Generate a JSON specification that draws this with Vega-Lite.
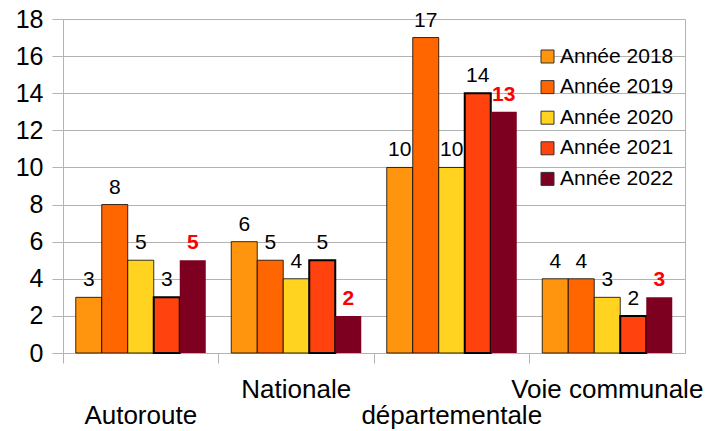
{
  "$schema": "https://vega.github.io/schema/vega-lite/v6.json",
  "width": 622,
  "height": 334,
  "autosize": {"type": "none"},
  "padding": {"left": 63, "top": 19, "right": 37, "bottom": 78},
  "background": "white",
  "config": {
    "font": "Liberation Sans",
    "view": {"stroke": null}
  },
  "data": {
    "values": [
      {"cat": "Autoroute", "year": "Année 2018", "v": 3},
      {"cat": "Autoroute", "year": "Année 2019", "v": 8},
      {"cat": "Autoroute", "year": "Année 2020", "v": 5},
      {"cat": "Autoroute", "year": "Année 2021", "v": 3},
      {"cat": "Autoroute", "year": "Année 2022", "v": 5},
      {"cat": "Nationale", "year": "Année 2018", "v": 6},
      {"cat": "Nationale", "year": "Année 2019", "v": 5},
      {"cat": "Nationale", "year": "Année 2020", "v": 4},
      {"cat": "Nationale", "year": "Année 2021", "v": 5},
      {"cat": "Nationale", "year": "Année 2022", "v": 2},
      {"cat": "départementale", "year": "Année 2018", "v": 10},
      {"cat": "départementale", "year": "Année 2019", "v": 17},
      {"cat": "départementale", "year": "Année 2020", "v": 10},
      {"cat": "départementale", "year": "Année 2021", "v": 14},
      {"cat": "départementale", "year": "Année 2022", "v": 13},
      {"cat": "Voie communale", "year": "Année 2018", "v": 4},
      {"cat": "Voie communale", "year": "Année 2019", "v": 4},
      {"cat": "Voie communale", "year": "Année 2020", "v": 3},
      {"cat": "Voie communale", "year": "Année 2021", "v": 2},
      {"cat": "Voie communale", "year": "Année 2022", "v": 3}
    ]
  },
  "encoding": {
    "x": {
      "field": "cat",
      "type": "nominal",
      "sort": null,
      "scale": {"paddingInner": 0, "paddingOuter": 0},
      "axis": {
        "title": null,
        "domain": false,
        "bandPosition": 0,
        "tickSize": 10,
        "tickColor": "#b3b3b3",
        "labelAngle": 0,
        "labelFontSize": 26,
        "labelColor": "#000000",
        "labelPadding": 13,
        "labelLineHeight": 26,
        "labelBaseline": "top",
        "labelLimit": 0,
        "labelOverlap": false,
        "labelExpr": "datum.value == 'Autoroute' || datum.value == 'départementale' ? ['', datum.label] : datum.label"
      }
    },
    "xOffset": {
      "field": "year",
      "type": "nominal",
      "scale": {"paddingInner": 0, "paddingOuter": 0.49}
    },
    "y": {
      "field": "v",
      "type": "quantitative",
      "scale": {"domain": [0, 18], "nice": false}
    }
  },
  "resolve": {"axis": {"y": "independent"}},
  "layer": [
    {
      "mark": {"type": "bar"},
      "encoding": {
        "y": {
          "field": "v",
          "type": "quantitative",
          "scale": {"domain": [0, 18], "nice": false},
          "axis": {
            "title": null,
            "domain": true,
            "domainColor": "#b3b3b3",
            "values": [0, 2, 4, 6, 8, 10, 12, 14, 16, 18],
            "tickSize": 11,
            "tickColor": "#b3b3b3",
            "gridColor": "#b3b3b3",
            "labelFontSize": 25,
            "labelColor": "#000000",
            "labelPadding": 9
          }
        },
        "color": {
          "field": "year",
          "type": "nominal",
          "scale": {
            "domain": ["Année 2018", "Année 2019", "Année 2020", "Année 2021", "Année 2022"],
            "range": ["#ff950e", "#ff6600", "#ffd320", "#ff420e", "#7e0021"]
          },
          "legend": {
            "title": null,
            "orient": "none",
            "legendX": 474,
            "legendY": 27,
            "padding": 0,
            "symbolType": "square",
            "symbolSize": 169,
            "symbolStrokeColor": "#333333",
            "symbolStrokeWidth": 1,
            "symbolOpacity": 1,
            "labelFontSize": 21,
            "labelColor": "#000000",
            "labelOffset": 2,
            "rowPadding": 8.6
          }
        },
        "stroke": {
          "condition": {"test": "datum.year == 'Année 2022'", "value": null},
          "value": "#000000"
        },
        "strokeWidth": {
          "condition": {"test": "datum.year == 'Année 2021'", "value": 2},
          "value": 0.8
        }
      }
    },
    {
      "transform": [{"filter": "datum.year != 'Année 2022'"}],
      "mark": {"type": "text", "baseline": "alphabetic", "dy": -11, "fontSize": 21, "color": "#000000"},
      "encoding": {
        "text": {"field": "v"},
        "y": {
          "field": "v",
          "type": "quantitative",
          "scale": {"domain": [0, 18], "nice": false},
          "axis": {
            "title": null,
            "orient": "right",
            "domain": true,
            "domainColor": "#b3b3b3",
            "grid": false,
            "ticks": false,
            "labels": false
          }
        }
      }
    },
    {
      "transform": [{"filter": "datum.year == 'Année 2022'"}],
      "mark": {"type": "text", "baseline": "alphabetic", "dy": -11, "fontSize": 21, "fontWeight": "bold", "color": "#ff0000"},
      "encoding": {
        "text": {"field": "v"},
        "y": {
          "field": "v",
          "type": "quantitative",
          "scale": {"domain": [0, 18], "nice": false},
          "axis": null
        }
      }
    }
  ]
}
